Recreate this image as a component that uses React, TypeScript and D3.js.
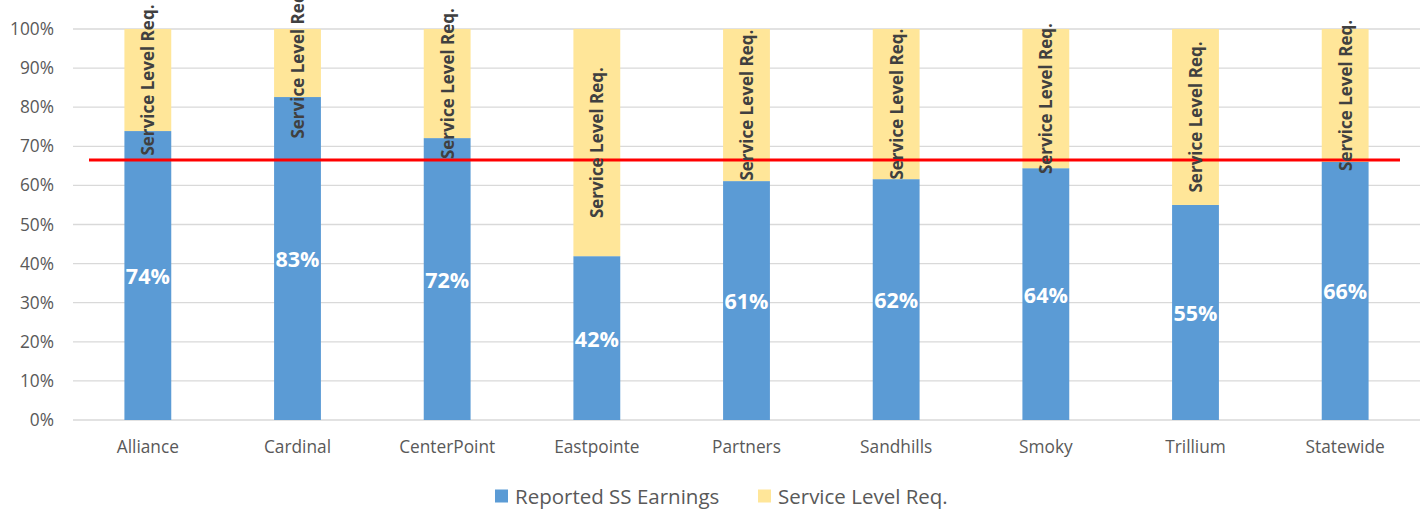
import React, { useEffect, useRef } from "react";
import * as d3 from "d3";

const categories = ["Alliance", "Cardinal", "CenterPoint", "Eastpointe", "Partners", "Sandhills", "Smoky", "Trillium", "Statewide"];
const reported = [0.739, 0.826, 0.721, 0.419, 0.611, 0.616, 0.644, 0.55, 0.66];
const serviceLevel = reported.map((v) => 1 - v); // remainder up to 100%
const targetLine = 0.665;
const yTicks = [0, 0.1, 0.2, 0.3, 0.4, 0.5, 0.6, 0.7, 0.8, 0.9, 1];
const seriesNames = ["Reported SS Earnings", "Service Level Req."];
const colors = ["#5B9BD5", "#FFE699"];

const W = 1427;
const H = 510;
const FONT = "'Open Sans', 'Noto Sans', sans-serif";

const App: React.FC = () => {
    const svgRef = useRef<SVGSVGElement>(null);

    useEffect(() => {
        document.body.style.margin = "0";
        const margin = { top: 29, right: 7, bottom: 90, left: 73 };
        const innerW = W - margin.left - margin.right;
        const innerH = H - margin.top - margin.bottom;

        const svg = d3.select(svgRef.current);
        svg.selectAll("*").remove();
        const g = svg.append("g").attr("transform", `translate(${margin.left},${margin.top})`);

        const x = d3.scaleBand().domain(categories).range([0, innerW]).paddingInner(0.687).paddingOuter(0.3435);
        const y = d3.scaleLinear().domain([0, 1]).range([innerH, 0]);

        // gridlines
        g.selectAll(".grid")
            .data(yTicks)
            .enter()
            .append("line")
            .attr("x1", 0)
            .attr("x2", innerW)
            .attr("y1", (d) => y(d))
            .attr("y2", (d) => y(d))
            .attr("stroke", "#D9D9D9")
            .attr("stroke-width", 1.3);

        g.append("g")
            .call(d3.axisLeft(y).tickValues(yTicks).tickFormat(d3.format(".0%")).tickSize(0).tickPadding(19))
            .call((a) => a.select(".domain").remove())
            .call((a) =>
                a.selectAll(".tick text")
                    .attr("fill", "#595959")
                    .style("font-family", FONT)
                    .style("font-size", "17.3px"),
            );

        // x labels
        g.append("g")
            .attr("transform", `translate(0,${innerH})`)
            .call(d3.axisBottom(x).tickSize(0).tickPadding(21))
            .call((a) => a.select(".domain").remove())
            .call((a) =>
                a.selectAll(".tick text")
                    .attr("fill", "#595959")
                    .style("font-family", FONT)
                    .style("font-size", "17.3px"),
            );

        // stacked bars
        g.selectAll(".blue")
            .data(categories)
            .enter()
            .append("rect")
            .attr("x", (d) => x(d)!)
            .attr("width", x.bandwidth())
            .attr("y", (d, i) => y(reported[i]))
            .attr("height", (d, i) => innerH - y(reported[i]))
            .attr("fill", colors[0]);

        g.selectAll(".yellow")
            .data(categories)
            .enter()
            .append("rect")
            .attr("x", (d) => x(d)!)
            .attr("width", x.bandwidth())
            .attr("y", (d, i) => y(reported[i] + serviceLevel[i]))
            .attr("height", (d, i) => y(reported[i]) - y(reported[i] + serviceLevel[i]))
            .attr("fill", colors[1]);

        // red target line
        g.append("line")
            .attr("x1", 16)
            .attr("x2", innerW - 20)
            .attr("y1", y(targetLine))
            .attr("y2", y(targetLine))
            .attr("stroke", "#FF0000")
            .attr("stroke-width", 3);

        // value labels
        g.selectAll(".val")
            .data(categories)
            .enter()
            .append("text")
            .attr("x", (d) => x(d)! + x.bandwidth() / 2)
            .attr("y", (d, i) => y(reported[i] / 2))
            .attr("text-anchor", "middle")
            .attr("dominant-baseline", "central")
            .attr("fill", "#FFFFFF")
            .style("font-family", FONT)
            .style("font-weight", "bold")
            .style("font-size", "21.5px")
            .text((d, i) => Math.round(reported[i] * 100) + "%");

        // rotated series labels
        g.selectAll(".svc")
            .data(categories)
            .enter()
            .append("text")
            .attr("transform", (d, i) => {
                const cx = x(d)! + x.bandwidth() / 2;
                const cy = y(reported[i] + serviceLevel[i] / 2);
                return `translate(${cx},${cy}) rotate(-90)`;
            })
            .attr("text-anchor", "middle")
            .attr("dominant-baseline", "central")
            .attr("fill", "#404040")
            .style("font-family", FONT)
            .style("font-weight", "bold")
            .style("font-size", "17px")
            .text(seriesNames[1]);

        // legend
        const legend = svg.append("g").attr("transform", `translate(0,${H - 14})`);
        const items = [
            { name: seriesNames[0], color: colors[0], x: 495 },
            { name: seriesNames[1], color: colors[1], x: 758 },
        ];
        items.forEach((it) => {
            legend.append("rect").attr("x", it.x).attr("y", -6.5).attr("width", 13).attr("height", 13).attr("fill", it.color);
            legend.append("text")
                .attr("x", it.x + 20)
                .attr("y", 0)
                .attr("dominant-baseline", "central")
                .attr("fill", "#595959")
                .style("font-family", FONT)
                .style("font-size", "20.5px")
                .text(it.name);
        });
    }, []);

    return <svg ref={svgRef} width={W} height={H} style={{ display: "block", background: "#fff" }}></svg>;
};

export default App;
